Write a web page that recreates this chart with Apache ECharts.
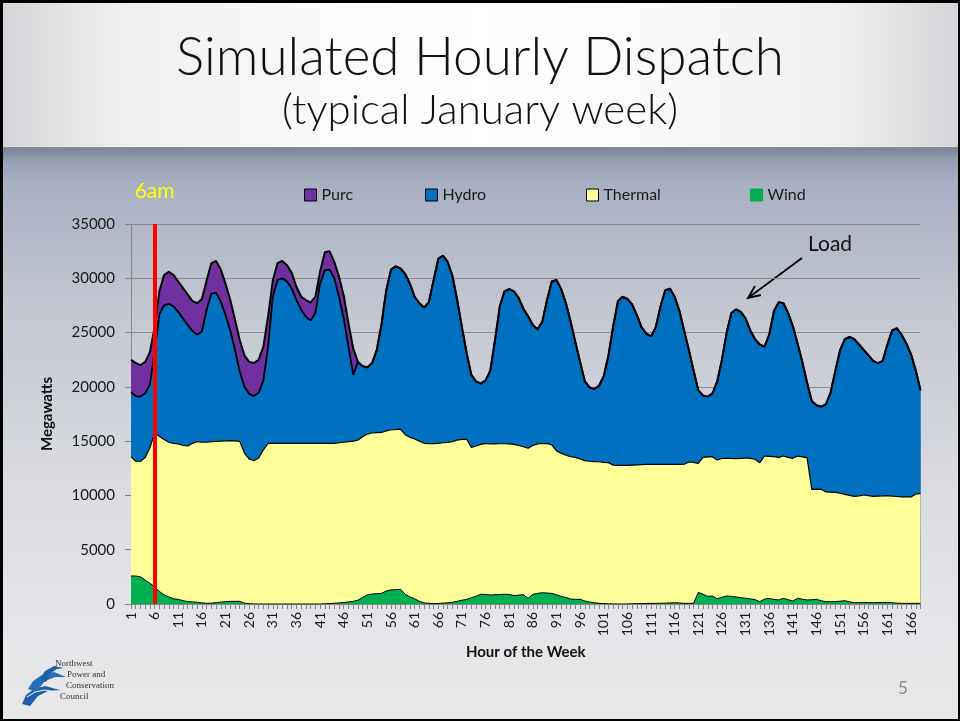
<!DOCTYPE html>
<html>
<head>
<meta charset="utf-8">
<script src="https://cdn.jsdelivr.net/npm/echarts@6/dist/echarts.min.js"></script>
<style>
html,body{margin:0;padding:0;background:#fff;}
#slide{position:relative;width:960px;height:721px;overflow:hidden;
  background:linear-gradient(to bottom,#7c8598 0px,#7c8598 148px,#98a1b4 162px,#a9b0c2 185px,#c4c8d2 320px,#d9dbe0 480px,#e4e5e8 620px,#e8e8ea 721px);}
#titlebg{position:absolute;left:0;top:0;width:960px;height:147px;
  background:linear-gradient(to right,#d4d5d8 0%,#eeeeef 12%,#fbfbfb 35%,#ffffff 50%,#fbfbfb 65%,#eeeeef 88%,#d4d5d8 100%);
  border-bottom:1px solid #8e8e8e;}
#chart{position:absolute;left:0;top:0;width:960px;height:721px;}
#frame{position:absolute;left:0;top:0;width:960px;height:721px;box-sizing:border-box;border:2px solid #000;border-top-width:3px;border-left-width:3px;pointer-events:none;}
</style>
</head>
<body>
<div id="slide">
  <div id="titlebg"></div>
  <div id="chart"></div>
  <div id="frame"></div>
</div>
<script>
// Hours of the week (category labels)
const hours = Array.from({length: 168}, (_, i) => String(i + 1));

// Load (top of stack, MW)
const loadLevel = [
  22500,22200,22000,22300,23200,25500,28800,30300,30600,30300,
  29700,29100,28500,27900,27700,28100,29800,31400,31600,30800,
  29500,28000,26200,24300,22900,22300,22200,22500,23700,26500,
  29800,31400,31600,31200,30500,29200,28300,28000,27750,28300,
  30600,32400,32500,31500,30150,28400,25850,23550,22300,21900,
  21800,22200,23400,25800,28900,30800,31100,30900,30400,29500,
  28300,27700,27300,27800,29800,31800,32100,31500,30200,28000,
  25500,23100,21100,20500,20300,20600,21500,24300,27400,28800,
  29000,28800,28200,27200,26500,25700,25300,26000,28000,29700,
  29850,29000,27700,26000,24100,22300,20500,19950,19800,20100,
  21000,22900,25600,27900,28300,28100,27600,26600,25500,24900,
  24650,25500,27400,28900,29050,28300,27000,25200,23400,21500,
  19700,19200,19100,19400,20500,22500,25000,26800,27140,26900,
  26300,25200,24400,23900,23700,24800,27000,27800,27700,26800,
  25600,24000,22300,20400,18700,18300,18170,18400,19500,21500,
  23400,24400,24600,24400,23900,23400,22900,22400,22170,22400,
  23900,25200,25400,24800,24000,23000,21500,19700
];

// Top of hydro (bottom of purchases) for hours 1-48; afterwards no purchases, hydro reaches load
const hydroTopPurcHours = [
  19500,19150,19100,19400,20200,23300,26700,27500,27650,27400,
  26900,26300,25700,25150,24800,25100,27100,28600,28650,27850,
  26600,25200,23400,21400,20000,19350,19150,19450,20600,23700,
  28300,29850,30000,29700,29050,28000,27100,26450,26100,26800,
  29500,30750,30800,30000,28300,26300,23700,21100
];
const hydroTop = hydroTopPurcHours.concat(loadLevel.slice(48));

// Top of thermal (MW)
const thermalTop = [
  13570,13150,13150,13500,14400,15700,15450,15150,14900,14800,
  14750,14600,14550,14800,14950,14900,14900,14950,14980,15000,
  15030,15040,15030,14980,13900,13350,13200,13450,14200,14800,
  14800,14800,14800,14800,14800,14800,14800,14800,14800,14800,
  14800,14800,14800,14800,14850,14900,14950,15000,15100,15400,
  15650,15750,15780,15800,15950,16050,16070,16100,15600,15350,
  15200,15000,14800,14780,14780,14800,14850,14890,14950,15100,
  15170,15170,14430,14550,14700,14800,14750,14740,14760,14760,
  14740,14700,14600,14500,14340,14600,14750,14800,14780,14650,
  14100,13900,13700,13560,13500,13350,13200,13150,13120,13100,
  13050,13020,12780,12770,12770,12770,12790,12810,12830,12860,
  12860,12860,12860,12860,12860,12860,12860,12870,13080,13050,
  12960,13510,13550,13570,13260,13400,13420,13400,13390,13420,
  13450,13420,13330,13020,13630,13600,13570,13510,13630,13500,
  13420,13630,13550,13480,10560,10580,10560,10320,10300,10280,
  10200,10100,10000,9920,9960,10040,9980,9920,9940,9960,
  9980,9940,9900,9860,9860,9860,10130,10160
];

// Wind (MW)
const windTop = [
  2580,2580,2500,2200,1900,1600,1150,850,650,480,
  430,300,230,190,160,100,60,80,120,170,
  215,240,245,245,80,30,10,0,0,0,
  0,0,0,0,0,0,0,0,0,0,
  0,20,40,70,100,140,190,250,350,600,
  850,920,950,980,1200,1300,1320,1350,900,650,
  480,250,100,60,40,50,80,110,160,250,
  350,420,580,720,900,880,830,860,880,900,
  880,780,820,860,520,890,980,1040,1010,980,
  850,700,600,450,430,430,280,180,120,60,
  40,20,10,0,0,10,20,30,40,50,
  60,60,70,80,100,120,100,60,60,60,
  1075,900,700,740,480,620,740,700,650,580,
  530,480,400,215,450,520,420,370,520,400,
  275,520,450,370,400,430,300,215,215,215,
  260,305,200,120,130,150,130,120,130,140,
  150,120,80,60,60,60,60,60
];

const legendNames = ['Purc', 'Hydro', 'Thermal', 'Wind'];
const fills = {Purc: '#7030a0', Hydro: '#0070c0', Thermal: '#ffff99', Wind: '#00b050'};
const yTicks = {min: 0, max: 35000, interval: 5000};

const chart = echarts.init(document.getElementById('chart'), null, {renderer: 'canvas'});
const font = 'Lato, "Open Sans", "DejaVu Sans", sans-serif';

function areaSeries(name, data, lw, extra) {
  return Object.assign({
    name: name, type: 'line', data: data, symbol: 'none', showSymbol: false,
    color: fills[name],
    lineStyle: {color: '#000', width: lw},
    areaStyle: {color: fills[name], opacity: 1},
    emphasis: {disabled: true},
    silent: true
  }, extra || {});
}

const legendLefts = [299, 420, 581, 745];
const legends = legendNames.map((n, i) => ({
  left: legendLefts[i], top: 182, icon: 'rect', itemWidth: 12, itemHeight: 12,
  selectedMode: false,
  textStyle: {fontSize: 16, color: '#1a1a1a', fontFamily: font},
  data: [{name: n, itemStyle: {color: fills[n], borderColor: n === 'Wind' ? fills[n] : '#000', borderWidth: 1}}]
}));

chart.setOption({
  animation: false,
  backgroundColor: 'transparent',
  title: [
    {text: 'Simulated Hourly Dispatch', left: 'center', top: 26,
     textStyle: {fontSize: 53, fontWeight: 300, fontFamily: font, color: '#111'}},
    {text: '(typical January week)', left: 'center', top: 84,
     textStyle: {fontSize: 42, fontWeight: 300, fontFamily: font, color: '#111'}}
  ],
  legend: legends,
  grid: {left: 131, right: 39.5, top: 224, bottom: 117, containLabel: false},
  xAxis: {
    type: 'category', data: hours, boundaryGap: false,
    axisLine: {lineStyle: {color: '#868686'}},
    axisTick: {interval: 0, length: 5, lineStyle: {color: '#868686'}},
    axisLabel: {interval: 4, rotate: 90, fontSize: 14, color: '#1a1a1a', fontFamily: font, margin: 8},
    splitLine: {show: false},
    name: 'Hour of the Week', nameLocation: 'middle', nameGap: 41,
    nameTextStyle: {fontWeight: 'bold', fontSize: 15, color: '#111', fontFamily: font}
  },
  yAxis: {
    type: 'value', min: yTicks.min, max: yTicks.max, interval: yTicks.interval,
    axisLine: {show: true, lineStyle: {color: '#868686'}},
    axisTick: {show: true, length: 6, lineStyle: {color: '#868686'}},
    splitLine: {lineStyle: {color: '#8a8a8a', width: 1}},
    axisLabel: {fontSize: 15, color: '#1a1a1a', fontFamily: font, margin: 16,
                formatter: v => String(v)},
    name: 'Megawatts', nameLocation: 'middle', nameGap: 76,
    nameTextStyle: {fontWeight: 'bold', fontSize: 15, color: '#111', fontFamily: font}
  },
  series: [
    areaSeries('Purc', loadLevel, 2),
    areaSeries('Hydro', hydroTop, 1.8),
    areaSeries('Thermal', thermalTop, 1.2),
    areaSeries('Wind', windTop, 1, {
      markLine: {
        silent: true, symbol: ['none', 'none'], animation: false,
        lineStyle: {color: '#ff0000', width: 4, type: 'solid'},
        label: {show: true, position: 'end', formatter: '6am', color: '#ffff00',
                fontSize: 21, fontFamily: font, distance: 22},
        emphasis: {disabled: true},
        data: [{xAxis: '6'}]
      }
    })
  ],
  graphic: [
    {type: 'text', left: 808, top: 234, silent: true,
     style: {text: 'Load', fontSize: 21, fill: '#111', fontFamily: font}},
    {type: 'polyline', silent: true, shape: {points: [[802, 258], [748, 298]]},
     style: {stroke: '#000', lineWidth: 1.8}},
    {type: 'polyline', silent: true, shape: {points: [[761, 295], [748, 298], [755, 286]]},
     style: {stroke: '#000', lineWidth: 1.8, fill: null}},
    {type: 'text', left: 898, top: 680, silent: true,
     style: {text: '5', fontSize: 17, fill: '#8c8c8c', fontFamily: font}},
    // logo
    {type: 'polygon', silent: true, shape: {points: [[22,704],[26,695],[34,689],[45,686],[60,690],[48,691],[38,696],[30,706]]}, style: {fill: '#1f5fa8'}},
    {type: 'polygon', silent: true, shape: {points: [[28,689],[33,681],[42,675],[54,672],[66,677],[55,677],[45,681],[36,692]]}, style: {fill: '#2a6db5'}},
    {type: 'polygon', silent: true, shape: {points: [[40,679],[45,671],[54,666],[64,668],[57,669],[51,673],[46,682]]}, style: {fill: '#1f5fa8'}},
    {type: 'polyline', silent: true, shape: {points: [[27,697],[35,692],[45,690],[54,692]]}, style: {stroke: '#fff', lineWidth: 1}},
    {type: 'text', left: 55, top: 659, silent: true, style: {text: 'Northwest', fontSize: 9, fill: '#333', fontFamily: '"Liberation Serif", serif'}},
    {type: 'text', left: 67, top: 670, silent: true, style: {text: 'Power and', fontSize: 9, fill: '#333', fontFamily: '"Liberation Serif", serif'}},
    {type: 'text', left: 66, top: 681, silent: true, style: {text: 'Conservation', fontSize: 9, fill: '#333', fontFamily: '"Liberation Serif", serif'}},
    {type: 'text', left: 60, top: 692, silent: true, style: {text: 'Council', fontSize: 9, fill: '#333', fontFamily: '"Liberation Serif", serif'}}
  ]
});
</script>
</body>
</html>
